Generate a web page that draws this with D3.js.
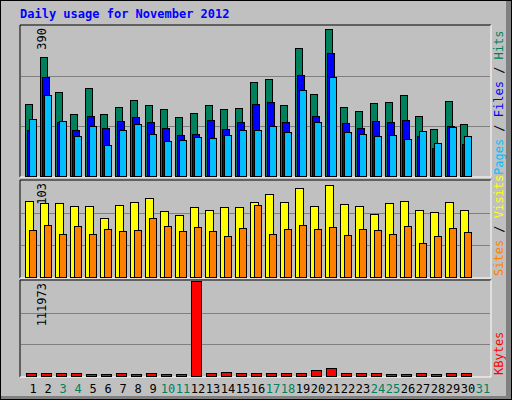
<!DOCTYPE html>
<html><head><meta charset="utf-8">
<script src="https://cdn.jsdelivr.net/npm/d3@7"></script>
<style>body{margin:0;background:#fff}text{font-family:"DejaVu Sans Mono",monospace}</style>
</head><body><svg id="c" width="512" height="400"></svg>
<script>
const days = d3.range(1, 31);
const weekendDays = [3, 4, 10, 11, 17, 18, 24, 25, 31];
const hits  = [186,309,218,160,228,160,179,197,184,173,153,163,184,173,176,244,251,184,332,212,381,179,168,189,193,210,155,121,194,134];
const files = [119,257,140,119,155,124,142,153,140,124,106,108,145,121,140,186,192,140,262,155,319,137,124,142,140,145,103,72,129,82];
const pages = [147,210,142,103,129,80,119,134,108,90,93,101,98,106,119,119,129,114,223,140,257,114,108,103,106,95,116,85,127,103];
const visits = [82,79,79,76,76,63,77,81,85,71,67,75,72,75,75,81,89,81,96,76,99,78,76,68,79,82,72,70,81,72];
const sites  = [50,56,46,55,46,52,49,50,63,55,49,54,49,44,53,77,46,52,56,51,54,45,52,50,46,55,36,44,53,48];
const kbytes = [4100,4100,4100,4100,2900,2900,4100,2900,4100,2900,2900,111973,4100,5300,4100,4100,4100,4100,4100,6500,9000,4100,4100,4100,2900,2900,4100,2900,4100,4100];
const maxLabels = ["390", "103", "111973"];

const svg = d3.select("#c");
svg.append("rect").attr("width",512).attr("height",400).attr("fill","#c0c0c0");
svg.append("rect").attr("x",506).attr("width",6).attr("height",400).attr("fill","#808080");
svg.append("rect").attr("y",396).attr("width",512).attr("height",4).attr("fill","#808080");
svg.append("rect").attr("x",0.5).attr("y",0.5).attr("width",511).attr("height",399).attr("fill","none").attr("stroke","#000");
svg.append("text").attr("x",20).attr("y",18).attr("fill","#0000ff").attr("font-weight","bold").attr("font-size",12).text("Daily usage for November 2012");

const x = d3.scaleBand().domain(days.concat([31])).range([25, 490]).paddingInner(0);
const W = 15;

function panel(y0, y1, maxV, label) {
  const g = svg.append("g");
  g.append("path").attr("d",`M20,${y1}V${y0}H491`).attr("stroke","#000").attr("fill","none");
  g.append("path").attr("d",`M20,${y1}H491V${y0}`).attr("stroke","#fff").attr("fill","none");
  const y = d3.scaleLinear().domain([0, maxV]).range([y1 - 1, y0 + 1]);
  [1/3, 2/3].forEach(f => {
    const yy = Math.round(y(maxV * f)) + 0.5;
    g.append("line").attr("x1",21).attr("x2",490).attr("y1",yy).attr("y2",yy).attr("stroke","#808080");
  });
  g.append("text").attr("transform",`translate(46,${y0+3}) rotate(-90)`).attr("text-anchor","end").attr("font-size",12).text(label);
  return y;
}
function bars(y, data, off, w, color) {
  svg.append("g").selectAll("rect").data(data).join("rect")
    .attr("x",(d,i)=>x(days[i]) + off + 0.5).attr("width",w)
    .attr("y",d=>Math.round(y(d))+0.5).attr("height",d=>y(0)-Math.round(y(d)))
    .attr("fill",color).attr("stroke","#000");
}
const y1 = panel(25, 177, 390, maxLabels[0]);
bars(y1, hits, 0, 7, "#00805c");
bars(y1, files, 2, 7, "#0000ff");
bars(y1, pages, 4, 7, "#00c0ff");
const y2 = panel(180, 278, 103, maxLabels[1]);
bars(y2, visits, 0, 8, "#ffff00");
bars(y2, sites, 4, 7, "#ff8000");
const y3 = panel(280, 377, 111973, maxLabels[2]);
bars(y3, kbytes, 1, 10, "#ff0000");

svg.append("g").selectAll("text").data(days.concat([31])).join("text")
  .attr("x",d=>x(d)+8).attr("y",393).attr("text-anchor","middle").attr("font-size",12)
  .attr("fill",d=>weekendDays.includes(d)?"#00805c":"#000").text(d=>d);

function sideLabel(yEnd, parts) {
  const t = svg.append("text").attr("transform",`translate(503,${yEnd}) rotate(-90)`).attr("font-size",12);
  parts.forEach(([s,c]) => t.append("tspan").attr("fill",c).text(s));
}
sideLabel(175, [["Pages","#00c0ff"],[" / ","#000"],["Files","#0000ff"],[" / ","#000"],["Hits","#00805c"]]);
sideLabel(276, [["Sites","#ff8000"],[" / ","#000"],["Visits","#ffff00"]]);
sideLabel(375, [["KBytes","#ff0000"]]);
</script></body></html>
